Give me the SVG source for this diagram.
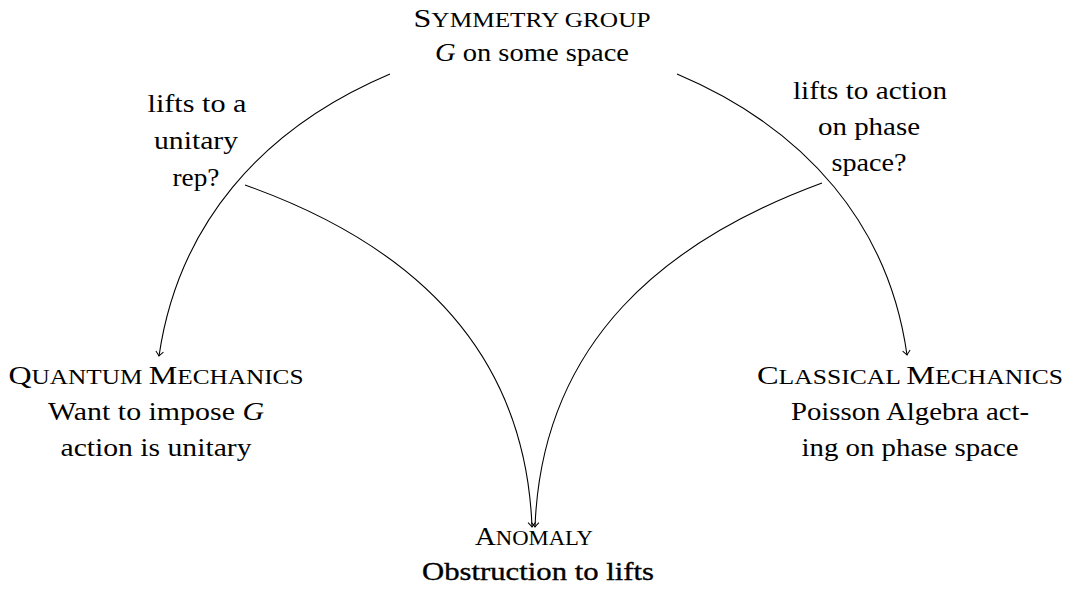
<svg xmlns="http://www.w3.org/2000/svg" width="1068" height="599" viewBox="0 0 1068 599">
<style>
text{font-family:"Liberation Serif","Times New Roman",serif;font-size:26px;fill:#000;text-anchor:middle}
.sc{font-size:20.5px}
.it{font-style:italic}
.edge{fill:none;stroke:#000;stroke-width:1.1}
.heavy{stroke:#000;stroke-width:0.35}
</style>
<defs>
<marker id="to" viewBox="-6 -5 8 10" markerWidth="8" markerHeight="10" refX="0" refY="0" orient="auto" markerUnits="userSpaceOnUse">
<path d="M-4.5,-3.8 Q-1.2,-0.8 0,0 Q-1.2,0.8 -4.5,3.8" fill="none" stroke="#000" stroke-width="1"/>
</marker>
</defs>
<rect width="1068" height="599" fill="#fff"/>
<g id="connectors">
<path class="edge" d="M390,74 C260,129 178,226 159,356" marker-end="url(#to)"/>
<path class="edge" d="M677,74 C807,129 889,226 907,355" marker-end="url(#to)"/>
<path class="edge" d="M245,185 C400,240 525,340 532,527" marker-end="url(#to)"/>
<path class="edge" d="M822,183 C667,240 542,340 535,527" marker-end="url(#to)"/>
</g>
<g id="label-left" font-family="Liberation Serif, serif">
<text x="197" y="112" textLength="99" lengthAdjust="spacingAndGlyphs">lifts to a</text>
<text x="196" y="149" textLength="84" lengthAdjust="spacingAndGlyphs">unitary</text>
<text x="196" y="186" textLength="47" lengthAdjust="spacingAndGlyphs">rep?</text>
</g>
<g id="label-right" font-family="Liberation Serif, serif">
<text x="870" y="99" textLength="154" lengthAdjust="spacingAndGlyphs">lifts to action</text>
<text x="869" y="135" textLength="102" lengthAdjust="spacingAndGlyphs">on phase</text>
<text x="869" y="171" textLength="75" lengthAdjust="spacingAndGlyphs">space?</text>
</g>
<g id="symmetry" font-family="Liberation Serif, serif">
<text x="532" y="27" textLength="237" lengthAdjust="spacingAndGlyphs">S<tspan class="sc">YMMETRY GROUP</tspan></text>
<text x="532" y="61" textLength="194" lengthAdjust="spacingAndGlyphs"><tspan class="it">G</tspan> on some space</text>
</g>
<g id="quantum" font-family="Liberation Serif, serif">
<text x="156" y="384" textLength="295" lengthAdjust="spacingAndGlyphs">Q<tspan class="sc">UANTUM </tspan>M<tspan class="sc">ECHANICS</tspan></text>
<text x="156" y="420" textLength="216" lengthAdjust="spacingAndGlyphs">Want to impose <tspan class="it">G</tspan></text>
<text x="156" y="456" textLength="191" lengthAdjust="spacingAndGlyphs">action is unitary</text>
</g>
<g id="classical" font-family="Liberation Serif, serif">
<text x="910" y="384" textLength="306" lengthAdjust="spacingAndGlyphs">C<tspan class="sc">LASSICAL </tspan>M<tspan class="sc">ECHANICS</tspan></text>
<text x="910" y="420" textLength="238" lengthAdjust="spacingAndGlyphs">Poisson Algebra act-</text>
<text x="910" y="456" textLength="217" lengthAdjust="spacingAndGlyphs">ing on phase space</text>
</g>
<g id="anomaly" font-family="Liberation Serif, serif">
<text x="534" y="545" textLength="118" lengthAdjust="spacingAndGlyphs">A<tspan class="sc">NOMALY</tspan></text>
<text class="heavy" x="538" y="580" textLength="232" lengthAdjust="spacingAndGlyphs">Obstruction to lifts</text>
</g>
</svg>
